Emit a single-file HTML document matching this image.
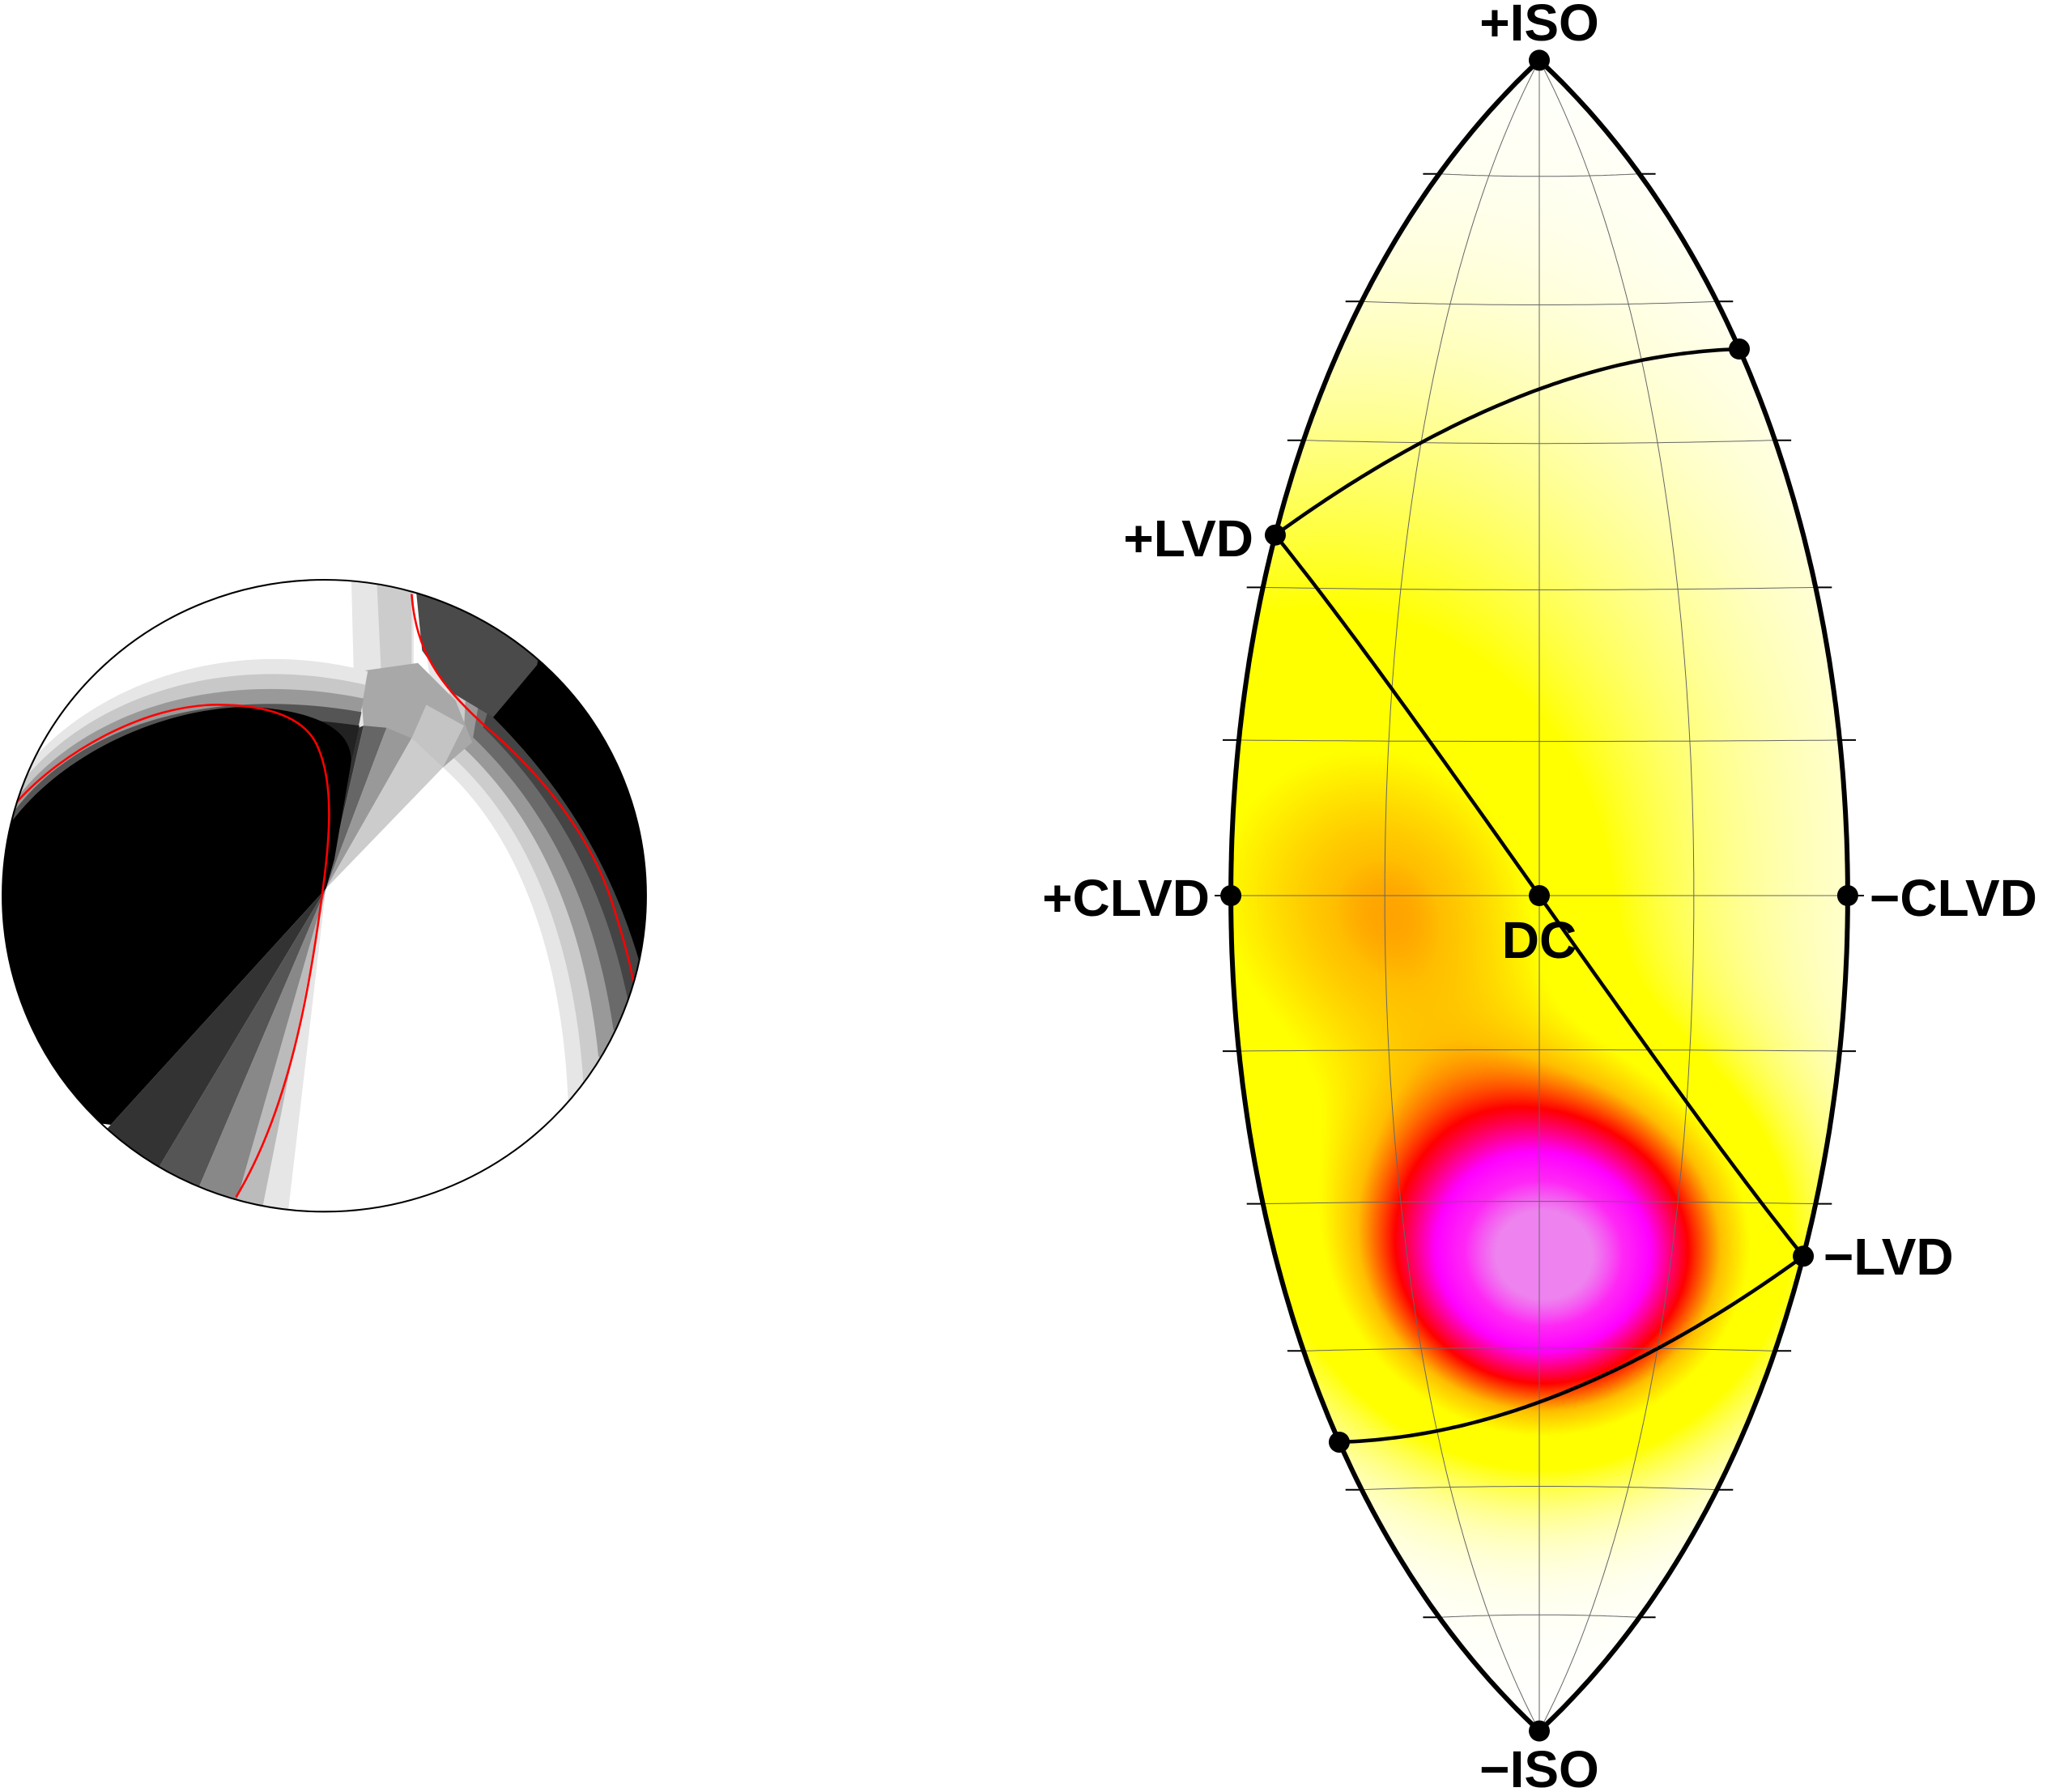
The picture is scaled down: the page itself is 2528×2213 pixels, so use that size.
<!DOCTYPE html>
<html><head><meta charset="utf-8"><style>
html,body{margin:0;padding:0;background:#fff;}
#wrap{position:relative;width:2528px;height:2213px;overflow:hidden;}
canvas,svg{position:absolute;left:0;top:0;}
text{font-family:"Liberation Sans",sans-serif;font-weight:bold;font-size:64px;fill:#000;}
</style></head><body>
<div id="wrap">
<canvas id="heat" width="2528" height="2213"></canvas>
<svg id="svg" width="2528" height="2213">
<defs>
<clipPath id="ballclip"><ellipse cx="776" cy="787" rx="770" ry="756"/></clipPath>
</defs>
<g id="beachball" transform="translate(0,700) scale(0.5161)">
 <g id="bbc" clip-path="url(#ballclip)">
  <rect x="0" y="0" width="1600" height="1600" fill="#fff"/>
 </g>
 <ellipse cx="776" cy="787" rx="770" ry="756" fill="none" stroke="#000" stroke-width="4"/>
</g>
<g id="lune"></g>
</svg>
</div>
<script>
// ---- data ----
const blobLon = [1, -13, -25];
const blobLat = [-36, -2, 5];
const blobAmp = [1.0, 0.22, 0.27];
const blobSigma = [12, 12, 28];
const gridLons = [-15, 0, 15];
const gridLats = [-75, -60, -45, -30, -15, 0, 15, 30, 45, 60, 75];
const pointLons = [0, 0, -30, 30, 0, -30, 30, 30, -30];
const pointLats = [90, -90, 35.26, -35.26, 0, 0, 0, 54.74, -54.74];
const arcStartLon = [-30, -30, -30];
const arcStartLat = [35.26, 35.26, -54.74];
const arcEndLon = [30, 30, 30];
const arcEndLat = [54.74, -35.26, -35.26];
const labelText = ["+ISO", "\u2212ISO", "+LVD", "\u2212LVD", "DC", "+CLVD", "\u2212CLVD"];

const NS = 'http://www.w3.org/2000/svg';
const CX = 1901, CY = 1106, S = 729.5, D = Math.PI / 180;
function hammer(lon, lat) {
  const l = lon * D, p = lat * D;
  const den = Math.sqrt(1 + Math.cos(p) * Math.cos(l / 2));
  return [CX + S * 2 * Math.SQRT2 * Math.cos(p) * Math.sin(l / 2) / den,
          CY - S * Math.SQRT2 * Math.sin(p) / den];
}
function vec(lon, lat) { const l = lon*D, p = lat*D; return [Math.cos(p)*Math.cos(l), Math.cos(p)*Math.sin(l), Math.sin(p)]; }
function angdist(lon1, lat1, lon2, lat2) {
  const a = vec(lon1, lat1), b = vec(lon2, lat2);
  let d = a[0]*b[0] + a[1]*b[1] + a[2]*b[2];
  d = Math.max(-1, Math.min(1, d));
  return Math.acos(d) / D;
}
const cstops = [[0,255,255,255],[0.2,255,255,0],[0.33,255,255,0],[0.45,255,190,0],[0.6,255,0,0],[0.78,255,0,255],[0.9,255,40,245],[1,238,130,238]];
function cmap(v) {
  v = Math.max(0, Math.min(1, v));
  for (let i = 1; i < cstops.length; i++) {
    if (v <= cstops[i][0]) {
      const a = cstops[i-1], b = cstops[i], t = (v - a[0]) / (b[0] - a[0]);
      return [a[1]+(b[1]-a[1])*t, a[2]+(b[2]-a[2])*t, a[3]+(b[3]-a[3])*t];
    }
  }
  return cstops[cstops.length-1].slice(1);
}
(function(){
  const cv = document.getElementById('heat'), ctx = cv.getContext('2d');
  const x0 = 1520, x1 = 2290, y0 = 60, y1 = 2160;
  const img = ctx.createImageData(x1 - x0, y1 - y0);
  for (let py = y0; py < y1; py++) {
    for (let px = x0; px < x1; px++) {
      const x = (px - CX) / S, y = (CY - py) / S;
      const zz = 1 - (x/4)*(x/4) - (y/2)*(y/2);
      if (zz < 0.5) continue;
      const z = Math.sqrt(zz);
      const lon = 2 * Math.atan2(z * x, 2 * (2*zz - 1)) / D;
      const sy = z * y; if (Math.abs(sy) > 1) continue;
      const lat = Math.asin(sy) / D;
      if (Math.abs(lon) > 30) continue;
      let v = 0;
      for (let k = 0; k < blobLon.length; k++) {
        const d = angdist(lon, lat, blobLon[k], blobLat[k]);
        v += blobAmp[k] * Math.exp(-d*d / (2*blobSigma[k]*blobSigma[k]));
      }
      const c = cmap(v), i = ((py - y0) * (x1 - x0) + (px - x0)) * 4;
      img.data[i] = c[0]; img.data[i+1] = c[1]; img.data[i+2] = c[2]; img.data[i+3] = 255;
    }
  }
  ctx.putImageData(img, x0, y0);
})();

// ---- beachball geometry (zoom-space coords) ----
const bb = document.getElementById('bbc');
function lp(a, b, t) { return [a[0]+(b[0]-a[0])*t, a[1]+(b[1]-a[1])*t]; }
function lc(A, B, t) { return A.map((p, i) => lp(p, B[i], t)); }
function cstr(c) { return 'M' + c[0].join(' ') + ' C' + c[1].join(' ') + ' ' + c[2].join(' ') + ' ' + c[3].join(' '); }
function bbPath(d, fill, name, stroke, sw) {
  const e = document.createElementNS(NS, 'path');
  e.setAttribute('d', d);
  e.setAttribute('fill', fill || 'none');
  if (stroke) { e.setAttribute('stroke', stroke); e.setAttribute('stroke-width', sw); }
  
  
  bb.appendChild(e);
}
const C0 = [780, 770];
bbPath('M 840 0 L 990 0 L 990 330 L 900 430 L 850 400 Z', '#e6e6e6', 'top-band');
bbPath('M 900 0 L 985 0 L 985 320 L 920 420 Z', '#cccccc', 'top-band');
const W = [[1060,480],[1250,650],[1350,950],[1360,1300]];
const K = [[1180,360],[1380,560],[1480,760],[1540,980]];
const rCols = ['#e6e6e6','#cccccc','#999999','#6a6a6a','#444444','#000000'];
rCols.forEach((col, i) => {
  const t = i / (rCols.length - 1);
  const c = lc(W, K, t);
  const top = lp([990, 0], [1340, 0], t);
  const endY = 1400 - 400 * t;
  bbPath(cstr(c) + ' L 1600 ' + endY + ' L 1600 0 L ' + top[0] + ' 0' + (t === 1 ? ' L 1285 235' : '') + ' Z', col, 'right-band');
});
bbPath('M 990 0 L 1300 0 L 1285 235 L 1180 360 L 1080 300 L 1010 200 Z', '#4a4a4a', 'top-dark-patch');
// cross-region gray patch
bbPath('M 860 250 L 1000 230 L 1090 320 L 1130 420 L 1060 480 L 985 410 L 870 380 Z', '#a8a8a8', 'cross-patch');
bbPath('M 985 410 L 1020 330 L 1110 380 L 1060 480 Z', '#c4c4c4', 'cross-patch');
const fanPts = [[820,400],[870,380],[925,385],[985,410],[1060,480]];
const fanCols = ['#333333','#666666','#999999','#cccccc'];
for (let i = 0; i < fanCols.length; i++) {
  bbPath('M ' + C0.join(' ') + ' L ' + fanPts[i].join(' ') + ' L ' + fanPts[i+1].join(' ') + ' Z', fanCols[i], 'upper-fan');
}
const H = [[20,540],[150,320],[500,150],[880,250]];
const B = [[10,640],[150,430],[450,320],[860,380]];
const hCols = ['#e6e6e6','#c8c8c8','#999999','#555555','#222222'];
hCols.forEach((col, i) => {
  const c = lc(H, B, i / (hCols.length - 1));
  bbPath(cstr(c) + ' L 840 470 L 780 770 L 0 1300 L 0 ' + c[0][1] + ' Z', col, 'upper-left-halo');
});
bbPath('M 0 660 L 20 620 C 150 440, 400 335, 600 335 C 760 345, 845 390, 840 470 L 800 700 L 780 770 L 265 1335 L 0 1300 Z', '#000', 'left-compressional');
const lowPts = [[265,1335],[390,1420],[480,1475],[570,1505],[630,1525],[690,1540]];
const lowCols = ['#333333','#555555','#888888','#bbbbbb','#e6e6e6'];
function ext(p) { return [C0[0] + (p[0]-C0[0])*1.4, C0[1] + (p[1]-C0[1])*1.4]; }
for (let i = 0; i < lowCols.length; i++) {
  bbPath('M ' + C0.join(' ') + ' L ' + ext(lowPts[i]).join(' ') + ' L ' + ext(lowPts[i+1]).join(' ') + ' Z', lowCols[i], 'lower-fan');
}
bbPath('M 780 770 L 1060 480 C 1250 650, 1350 950, 1360 1300 L 1400 1650 L 700 1650 L 690 1540 Z', '#fff', 'dilatational-region');
bbPath('M 40 563 C 150 440, 350 330, 520 330 C 640 330, 730 360, 760 430 C 800 520, 790 650, 770 790 C 740 1020, 690 1300, 565 1508', null, 'nodal-plane-1', '#ff0000', 5);
bbPath('M 985 65 C 995 200, 1050 280, 1160 380 C 1300 500, 1420 650, 1470 820 C 1495 900, 1510 960, 1515 990', null, 'nodal-plane-2', '#ff0000', 5);

// ---- lune vectors ----
const lune = document.getElementById('lune');
function pathFrom(pts) { return 'M' + pts.map(p => p[0].toFixed(1) + ' ' + p[1].toFixed(1)).join(' L'); }
function addPath(d, stroke, w, name) {
  const e = document.createElementNS(NS, 'path');
  e.setAttribute('d', d); e.setAttribute('fill', 'none'); e.setAttribute('stroke', stroke); e.setAttribute('stroke-width', w);
  
  
  lune.appendChild(e); return e;
}
gridLons.forEach(lo => {
  const pts = []; for (let la = -90; la <= 90; la += 1) pts.push(hammer(lo, la));
  addPath(pathFrom(pts), '#666', 1, 'meridian-line');
});
gridLats.forEach(la => {
  const pts = []; for (let lo = -30; lo <= 30; lo += 1) pts.push(hammer(lo, la));
  addPath(pathFrom(pts), '#666', 1, 'parallel-line');
  const l = hammer(-30, la), r = hammer(30, la);
  addPath(pathFrom([[l[0]-20, l[1]], [l[0], l[1]]]), '#000', 2, 'tick-mark');
  addPath(pathFrom([[r[0], r[1]], [r[0]+20, r[1]]]), '#000', 2, 'tick-mark');
});
(function(){
  const pts = [];
  for (let la = -90; la <= 90; la += 0.5) pts.push(hammer(-30, la));
  for (let la = 90; la >= -90; la -= 0.5) pts.push(hammer(30, la));
  addPath(pathFrom(pts) + ' Z', '#000', 6, 'lune-boundary');
})();
for (let k = 0; k < arcStartLon.length; k++) {
  const a = vec(arcStartLon[k], arcStartLat[k]), b = vec(arcEndLon[k], arcEndLat[k]);
  const om = Math.acos(a[0]*b[0]+a[1]*b[1]+a[2]*b[2]);
  const pts = [];
  for (let i = 0; i <= 100; i++) {
    const t = i / 100, s1 = Math.sin((1-t)*om)/Math.sin(om), s2 = Math.sin(t*om)/Math.sin(om);
    const v = [a[0]*s1+b[0]*s2, a[1]*s1+b[1]*s2, a[2]*s1+b[2]*s2];
    pts.push(hammer(Math.atan2(v[1], v[0]) / D, Math.asin(v[2]) / D));
  }
  addPath(pathFrom(pts), '#000', 4.5, 'great-circle-arc');
}
for (let k = 0; k < pointLons.length; k++) {
  const p = hammer(pointLons[k], pointLats[k]);
  const c = document.createElementNS(NS, 'circle');
  c.setAttribute('cx', p[0]); c.setAttribute('cy', p[1]); c.setAttribute('r', 13); c.setAttribute('fill', '#000');
  
  
  lune.appendChild(c);
}
const labelPos = [[1901, 50, 'middle'], [1901, 2207, 'middle'], [1548, 687, 'end'], [2252, 1574, 'start'], [1901, 1183, 'middle'], [1494, 1131, 'end'], [2309, 1131, 'start']];
const labelNames = ['label-plus-iso', 'label-minus-iso', 'label-plus-lvd', 'label-minus-lvd', 'label-dc', 'label-plus-clvd', 'label-minus-clvd'];
for (let k = 0; k < labelText.length; k++) {
  const t = document.createElementNS(NS, 'text');
  t.setAttribute('x', labelPos[k][0]); t.setAttribute('y', labelPos[k][1]); t.setAttribute('text-anchor', labelPos[k][2]);
  t.textContent = labelText[k];
  
  
  lune.appendChild(t);
}
</script>
</body></html>
